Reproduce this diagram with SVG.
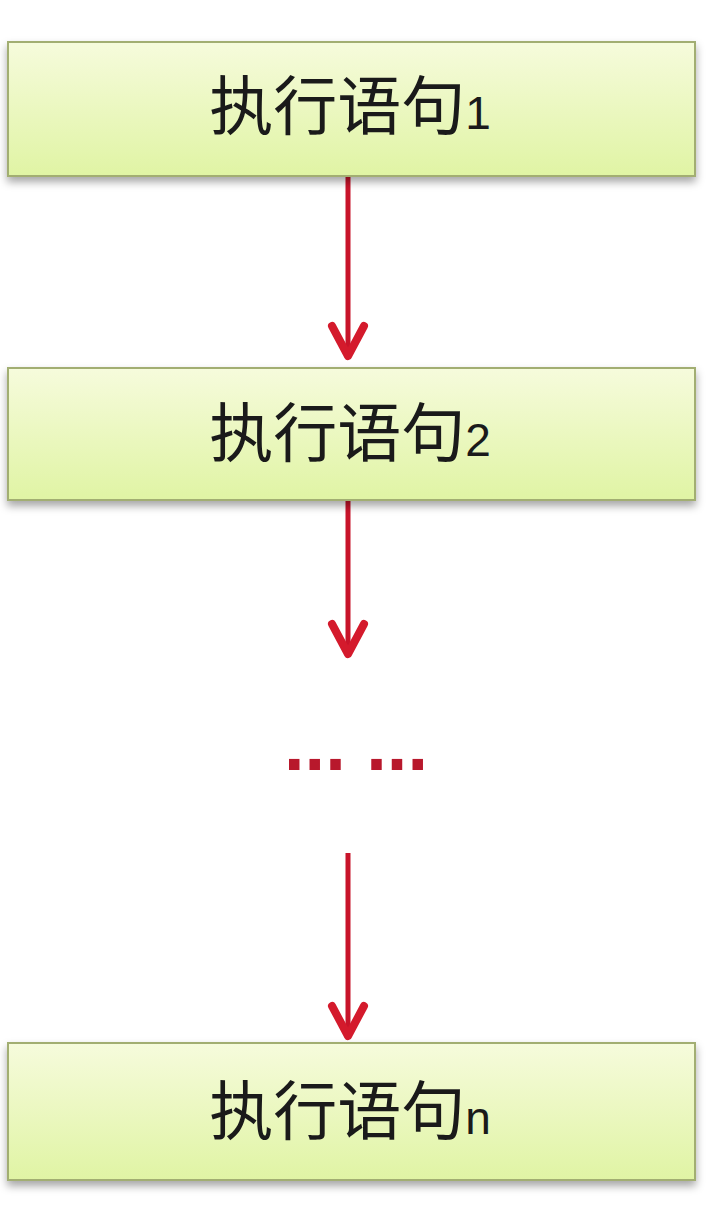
<svg xmlns="http://www.w3.org/2000/svg" width="720" height="1220" viewBox="0 0 720 1220">
<defs>
<linearGradient id="g" x1="0" y1="0" x2="0" y2="1">
<stop offset="0" stop-color="#f6fbdc"/>
<stop offset="1" stop-color="#e0f4a4"/>
</linearGradient>
<filter id="sh" x="-5%" y="-10%" width="110%" height="130%">
<feDropShadow dx="0" dy="5" stdDeviation="4" flood-color="#000" flood-opacity="0.35"/>
</filter>
</defs>
<style>
.box{fill:url(#g);stroke:#a2ae72;stroke-width:2;filter:url(#sh)}
.lbl{font-family:"Noto Sans CJK SC","Liberation Sans",sans-serif;font-size:64px;fill:#1a1a1a;text-anchor:middle}
.sub{font-family:"Liberation Sans",sans-serif;font-size:46px}
.ln{stroke:#c8142a;stroke-width:5;fill:none}
.hd{fill:none;stroke:#d41a2c;stroke-width:8;stroke-linecap:round;stroke-linejoin:round}
</style>
<rect width="720" height="1220" fill="#ffffff"/>
<g id="connectors">
<line class="ln" x1="348" y1="176" x2="348" y2="358"/>
<polyline class="hd" points="332,326 348,356 364,326"/>
<line class="ln" x1="348" y1="500" x2="348" y2="655"/>
<polyline class="hd" points="332,624 348,654 364,624"/>
<line class="ln" x1="348" y1="853" x2="348" y2="1037"/>
<polyline class="hd" points="332,1006 348,1036 364,1006"/>
</g>
<g id="node1">
<rect class="box" x="8" y="42" width="687" height="134"/>
<text class="lbl" x="350" y="129">执行语句<tspan class="sub">1</tspan></text>
</g>
<g id="node2">
<rect class="box" x="8" y="368" width="687" height="132"/>
<text class="lbl" x="350" y="456">执行语句<tspan class="sub">2</tspan></text>
</g>
<g id="ellipsis">
<text x="356" y="770" font-family="Liberation Sans, sans-serif" font-weight="bold" font-size="74" fill="#b8182c" text-anchor="middle">... ...</text>
</g>
<g id="node3">
<rect class="box" x="8" y="1043" width="687" height="137"/>
<text class="lbl" x="350" y="1134">执行语句<tspan class="sub">n</tspan></text>
</g>
</svg>
